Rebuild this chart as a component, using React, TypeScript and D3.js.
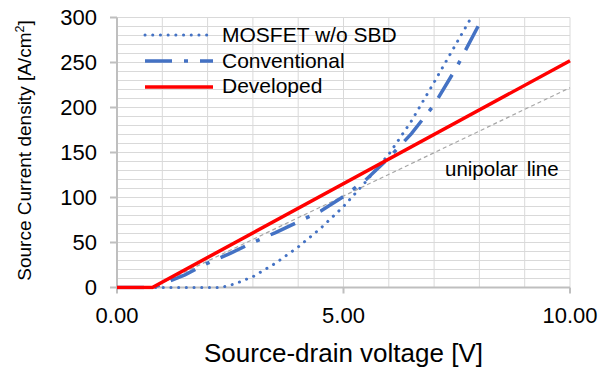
import React from "react";
import * as d3 from "d3";

// Source-drain voltage [V] vs source current density [A/cm²]
const mosfetV = [0, 1, 2, 2.3, 2.6, 3, 3.5, 4, 4.5, 5, 5.5, 6, 6.5, 7, 7.5, 7.82];
const mosfetJ = [0, 0, 0, 0, 4, 12, 27, 45, 66, 90, 118, 148, 185, 228, 272, 300];

const convV = [0, 0.8, 1, 1.5, 2, 2.5, 3, 3.5, 4, 4.5, 5, 5.5, 6, 6.5, 7, 7.5, 8, 8.08];
const convJ = [0, 0, 4, 14, 27, 38, 50, 61, 73, 85, 101, 120, 144, 171, 203, 245, 293, 300];

const devV = [0, 0.78, 10];
const devJ = [0, 0, 252];

const unipolarV = [0.78, 10];
const unipolarJ = [0, 222];

const xTicks = [0, 5, 10];
const yTicks = [0, 50, 100, 150, 200, 250, 300];

const legendLabels = ["MOSFET w/o SBD", "Conventional", "Developed"];

const FONT = "'Liberation Sans', Arial, sans-serif";
const BLUE = "#4472c4";
const RED = "#ff0000";

export default function App() {
  const W = 610;
  const H = 371;
  const x = d3.scaleLinear().domain([0, 10]).range([117, 570]);
  const y = d3.scaleLinear().domain([0, 300]).range([287.5, 17.5]);

  const line = d3
    .line<[number, number]>()
    .x((d) => x(d[0]))
    .y((d) => y(d[1]));

  const zip = (a: number[], b: number[]) => a.map((v, i) => [v, b[i]] as [number, number]);

  const hGrid = d3.range(0, 301, 10);
  const vGrid = d3.range(0, 11, 1);

  const legendLineY = [35, 61, 87];
  const legendTextY = [34.5, 60, 85.5];
  const legendStyles = [
    { stroke: BLUE, width: 3, dash: "0.1 7.6", cap: "round" },
    { stroke: BLUE, width: 3.5, dash: "27 12 4 12", cap: "butt" },
    { stroke: RED, width: 3.5, dash: undefined, cap: "butt" },
  ];

  return (
    <svg
      width={W}
      height={H}
      style={{ position: "absolute", left: 0, top: 0, background: "#fff" }}
      fontFamily={FONT}
    >
      <defs>
        <clipPath id="plot">
          <rect x={x(0)} y={y(300) - 2} width={x(10) - x(0) + 2} height={y(0) - y(300) + 4} />
        </clipPath>
      </defs>

      {/* gridlines */}
      <g stroke="#d9d9d9" strokeWidth={1}>
        {hGrid.map((v) => (
          <line key={"h" + v} x1={x(0)} x2={x(10)} y1={y(v)} y2={y(v)} />
        ))}
        {vGrid.map((v) => (
          <line key={"v" + v} x1={x(v)} x2={x(v)} y1={y(0)} y2={y(300)} />
        ))}
      </g>

      {/* axes */}
      <g stroke="#bfbfbf" strokeWidth={2}>
        <line x1={x(0)} x2={x(0)} y1={y(0)} y2={y(300)} />
        <line x1={x(0)} x2={x(10)} y1={y(0)} y2={y(0)} />
        {yTicks.map((v) => (
          <line key={"yt" + v} x1={x(0) - 7} x2={x(0)} y1={y(v)} y2={y(v)} />
        ))}
        {xTicks.map((v) => (
          <line key={"xt" + v} x1={x(v)} x2={x(v)} y1={y(0)} y2={y(0) + 6} />
        ))}
      </g>

      {/* tick labels */}
      <g fontSize={22} fill="#000">
        {yTicks.map((v) => (
          <text key={"yl" + v} x={97} y={y(v)} dy="0.36em" textAnchor="end">
            {v}
          </text>
        ))}
        {xTicks.map((v) => (
          <text key={"xl" + v} x={x(v)} y={323} textAnchor="middle">
            {v.toFixed(2)}
          </text>
        ))}
      </g>

      {/* axis titles */}
      <text x={343.5} y={362} fontSize={26} textAnchor="middle" fill="#000">
        Source-drain voltage [V]
      </text>
      <text
        transform={`translate(31,${(y(0) + y(300)) / 2 - 2}) rotate(-90)`}
        fontSize={19}
        textAnchor="middle"
        fill="#000"
      >
        Source Current density [A/cm
        <tspan fontSize={12.5} dy={-7}>2</tspan>
        <tspan dy={7}>]</tspan>
      </text>

      {/* series */}
      <g clipPath="url(#plot)" fill="none">
        <path
          d={line(zip(unipolarV, unipolarJ)) || ""}
          stroke="#a6a6a6"
          strokeWidth={1.2}
          strokeDasharray="4 3"
        />
        <path
          d={line(zip(mosfetV, mosfetJ)) || ""}
          stroke={BLUE}
          strokeWidth={3}
          strokeDasharray="0.1 7.6"
          strokeLinecap="round"
        />
        <path
          d={line(zip(convV, convJ)) || ""}
          stroke={BLUE}
          strokeWidth={3.5}
          strokeDasharray="27 12 4 12"
        />
        <path d={line(zip(devV, devJ)) || ""} stroke={RED} strokeWidth={3.5} />
      </g>

      <text x={445} y={176} fontSize={20.5} fill="#000" wordSpacing={3}>
        unipolar line
      </text>

      {/* legend */}
      <g>
        {legendLabels.map((label, i) => (
          <g key={label}>
            <line
              x1={145}
              x2={213}
              y1={legendLineY[i]}
              y2={legendLineY[i]}
              stroke={legendStyles[i].stroke}
              strokeWidth={legendStyles[i].width}
              strokeDasharray={legendStyles[i].dash}
              strokeLinecap={legendStyles[i].cap as any}
            />
            <text x={222} y={legendTextY[i]} dy="0.36em" fontSize={21} fill="#000">
              {label}
            </text>
          </g>
        ))}
      </g>
    </svg>
  );
}
